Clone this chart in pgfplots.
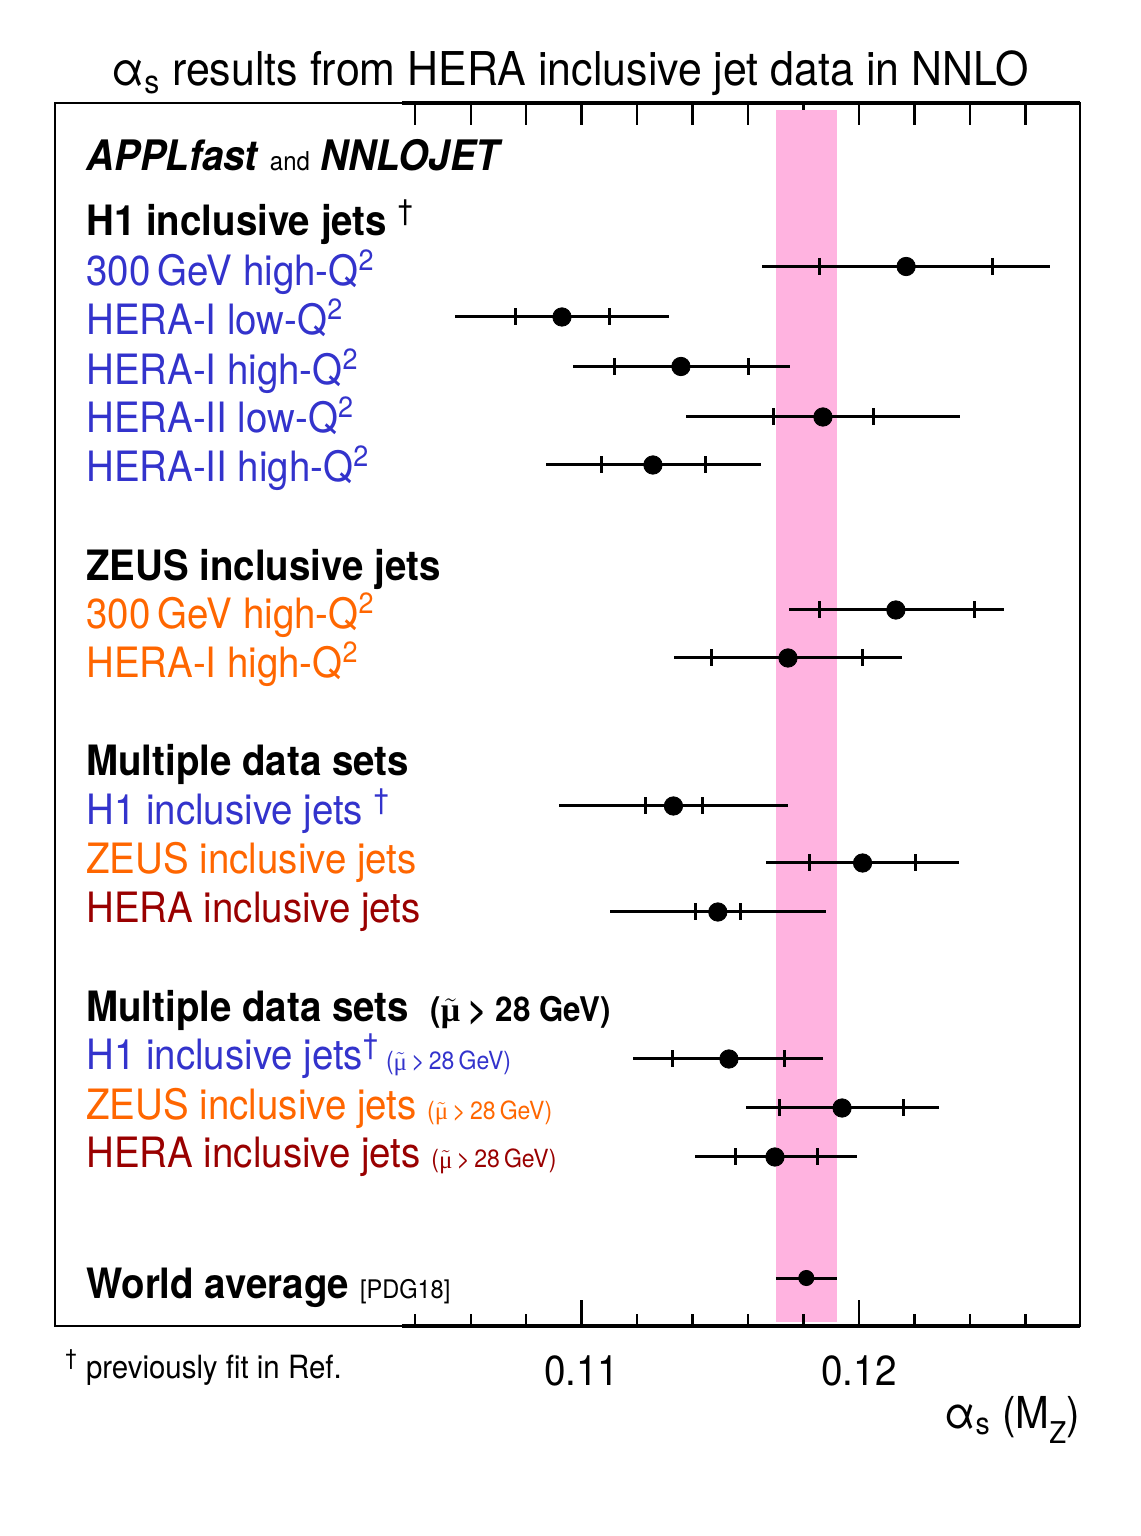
\documentclass[border=0pt]{standalone}
\usepackage{fontspec}
\setmainfont{TeX Gyre Heros}[FakeStretch=0.92]
\newfontfamily\libserif{Liberation Serif}
\usepackage{pgfplots}
\usepackage{pgfplotstable}
\pgfplotsset{compat=1.18}
\definecolor{hblue}{RGB}{51,51,204}
\definecolor{zorange}{RGB}{255,102,0}
\definecolor{hred}{RGB}{153,0,0}
\definecolor{bandpink}{RGB}{255,179,224}
\newcommand{\fs}[1]{\fontsize{#1}{#1}\selectfont}
\newcommand{\mut}{$\tilde{\hbox{\libserif μ}}$}
\newcommand{\mucut}{(\mut\,>\,28\,GeV)}
\newcommand{\mucutb}{(\mut\ >\ 28\ GeV)}
\tikzset{lbl/.style={anchor=base west, inner sep=0pt, font=\fs{20.9}}}

% y = row position (vertical slot), v = alpha_s, inner and outer uncertainty ranges
\pgfplotstableread{
y      v       ilo     ihi     olo     ohi
1059.5 0.12170 0.11859 0.12480 0.11650 0.12690
1009   0.10929 0.10760 0.11099 0.10543 0.11315
959.5  0.11358 0.11120 0.11600 0.10969 0.11751
909    0.11870 0.11690 0.12051 0.11376 0.12364
861    0.11257 0.11070 0.11448 0.10871 0.11647
716    0.12133 0.11856 0.12415 0.11746 0.12523
668    0.11744 0.11470 0.12014 0.11333 0.12155
520    0.11331 0.11232 0.11434 0.10918 0.11744
463    0.12013 0.11822 0.12202 0.11666 0.12361
414    0.11491 0.11412 0.11571 0.11104 0.11881
267    0.11531 0.11329 0.11733 0.11185 0.11870
218    0.11939 0.11715 0.12159 0.11593 0.12289
169    0.11697 0.11553 0.11852 0.11409 0.11993
}\data

\begin{document}
\begin{tikzpicture}
\path[use as bounding box] (-27.5pt,-105pt) rectangle (542.5pt,663pt);
% upper ticks (all of one length)
\begin{axis}[
  scale only axis, width=512.5pt, height=611.5pt,
  xmin=0.09101, xmax=0.12797, ymin=0, ymax=1223,
  ytick=\empty, xtick pos=right,
  xtick={0.104,0.106,0.108,0.110,0.112,0.114,0.116,0.118,0.120,0.122,0.124,0.126},
  xticklabels={}, major tick length=11pt,
  tick style={line width=1.2pt, black},
  axis line style={draw=none},
]
\end{axis}
\begin{axis}[
  scale only axis, width=512.5pt, height=611.5pt,
  xmin=0.09101, xmax=0.12797, ymin=0, ymax=1223,
  ytick=\empty, xtick pos=left,
  xtick={0.11,0.12}, xticklabels={0.11,0.12},
  minor xtick={0.104,0.106,0.108,0.112,0.114,0.116,0.118,0.122,0.124,0.126},
  major tick length=13pt, minor tick length=6pt,
  tick style={line width=1.2pt, black},
  axis line style={line width=1.2pt},
  axis on top, clip=false,
  xticklabel style={font=\fs{21}, anchor=base, yshift=-29.5pt},
]
\addplot[draw=none, fill=bandpink] coordinates {(0.11701,4.3) (0.11919,4.3) (0.11919,1216) (0.11701,1216)} -- cycle;

\addplot[only marks, mark=none, error bars/.cd, x dir=both, x explicit, error mark=none,
  error bar style={line width=1.5pt, black}]
  table[x=v, y=y, x error plus expr=\thisrow{ohi}-\thisrow{v}, x error minus expr=\thisrow{v}-\thisrow{olo}] {\data};
\addplot[only marks, mark=|, mark size=4.25pt, mark options={line width=1.5pt, black}] table[x=ilo, y=y] {\data};
\addplot[only marks, mark=|, mark size=4.25pt, mark options={line width=1.5pt, black}] table[x=ihi, y=y] {\data};
\addplot[only marks, mark=*, mark size=4.6pt, black] table[x=v, y=y] {\data};

\addplot[black, line width=1.5pt, mark=none] coordinates {(0.1170,48) (0.1192,48)};
\addplot[only marks, mark=*, mark size=3.8pt, black] coordinates {(0.1181,48)};

% thicker axis segments (the tick-bearing part of the frame)
\draw[line width=1.7pt] (axis cs:0.10352,0) -- (axis cs:0.12797,0);
\draw[line width=1.7pt] (axis cs:0.10352,1223) -- (axis cs:0.12797,1223);

% texts
\node[anchor=base, inner sep=0pt, font=\fs{23.3}] at (axis cs:0.10958,1240) {α\textsubscript{s} results from HERA inclusive jet data in NNLO};

\node[lbl, font=\fs{21}] at (axis cs:0.09213,1155) {\textbf{\textit{APPLfast}} {\fs{13}and} \textbf{\textit{NNLOJET}}};

\node[lbl, font=\fs{20.9}\bfseries] at (axis cs:0.09213,1090) {H1 inclusive jets \textsuperscript{\mdseries†}};
\node[lbl, hblue] at (axis cs:0.09213,1040) {300\,GeV high-Q\textsuperscript{2}};
\node[lbl, hblue] at (axis cs:0.09213,991) {HERA-I low-Q\textsuperscript{2}};
\node[lbl, hblue] at (axis cs:0.09213,941) {HERA-I high-Q\textsuperscript{2}};
\node[lbl, hblue] at (axis cs:0.09213,893) {HERA-II low-Q\textsuperscript{2}};
\node[lbl, hblue] at (axis cs:0.09213,844) {HERA-II high-Q\textsuperscript{2}};

\node[lbl, font=\fs{20.9}\bfseries] at (axis cs:0.09213,745) {ZEUS inclusive jets};
\node[lbl, zorange] at (axis cs:0.09213,697) {300\,GeV high-Q\textsuperscript{2}};
\node[lbl, zorange] at (axis cs:0.09213,648) {HERA-I high-Q\textsuperscript{2}};

\node[lbl, font=\fs{20.9}\bfseries] at (axis cs:0.09213,550) {Multiple data sets};
\node[lbl, hblue] at (axis cs:0.09213,501) {H1 inclusive jets \textsuperscript{†}};
\node[lbl, zorange] at (axis cs:0.09213,452) {ZEUS inclusive jets};
\node[lbl, hred] at (axis cs:0.09213,403) {HERA inclusive jets};

\node[lbl, font=\fs{20.9}\bfseries] at (axis cs:0.09213,304) {Multiple data sets \ {\fs{17}\mucutb}};
\node[lbl, hblue] at (axis cs:0.09213,256) {H1 inclusive jets\textsuperscript{†}\,{\fs{12.5}\mucut}};
\node[lbl, zorange] at (axis cs:0.09213,206) {ZEUS inclusive jets {\fs{12.5}\mucut}};
\node[lbl, hred] at (axis cs:0.09213,158) {HERA inclusive jets {\fs{12.5}\mucut}};

\node[lbl] at (axis cs:0.09213,28) {\textbf{World average} {\fs{12.8}[PDG18]}};

\node[lbl, font=\fs{16}] at (axis cs:0.09137,-52) {\textsuperscript{†} previously fit in Ref.};
\node[anchor=base east, inner sep=0pt, font=\fs{22}] at (axis cs:0.12797,-102) {α\textsubscript{s} (M\raisebox{-0.35em}{\fs{15}Z})};
\end{axis}
\end{tikzpicture}
\end{document}
